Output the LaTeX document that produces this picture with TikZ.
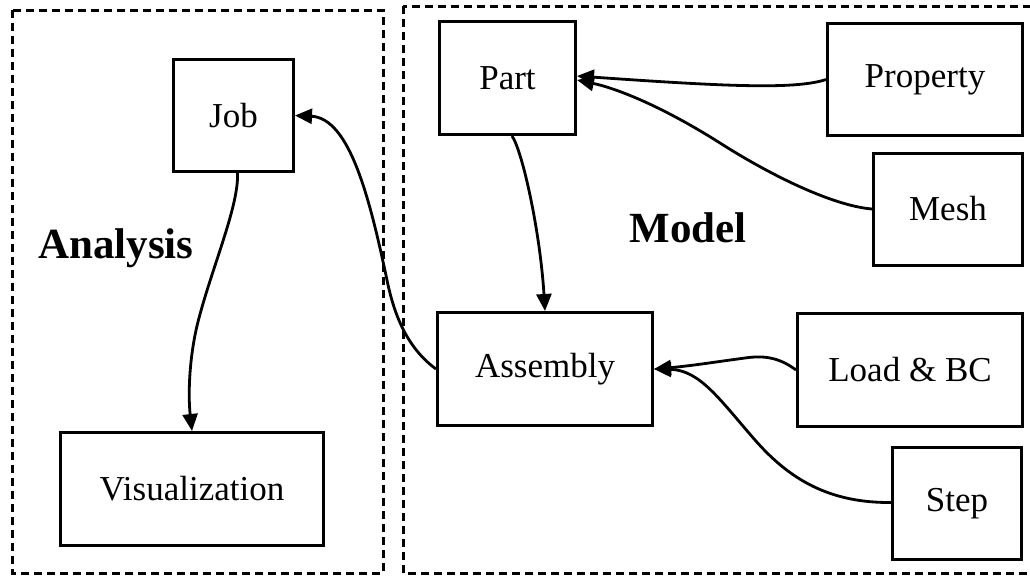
\documentclass[tikz,border=0pt]{standalone}
\usepackage{fontspec}
\setmainfont{Liberation Serif}
\usetikzlibrary{arrows.meta}
\begin{document}
\begin{tikzpicture}[x=1pt,y=-1pt,
  frame/.style={draw, line width=3pt, dash pattern=on 8pt off 5pt},
  box/.style={draw, line width=3pt, inner sep=0pt, font=\fontsize{35}{40}\selectfont},
  grp/.style={font=\fontsize{43}{50}\selectfont\bfseries},
  link/.style={line width=2.8pt, -{Triangle[length=17pt,width=15pt]}}]
\useasboundingbox (0,0) rectangle (1030,576);
\fill[white] (0,0) rectangle (1030,576);
\draw[frame] (12,10) rectangle (383,573);
\draw[frame] (403,6) rectangle (1060,573);
% nodes
\node[box, minimum width=120pt, minimum height=112pt] (job) at (233.5,115.5) {Job};
\node[box, minimum width=263pt, minimum height=113pt] (vis) at (192,489) {Visualization};
\node[box, minimum width=136pt, minimum height=113pt] (part) at (507.5,78) {Part};
\node[box, minimum width=195pt, minimum height=112pt] (prop) at (925,79.5) {Property};
\node[box, minimum width=149pt, minimum height=112pt] (mesh) at (948,209) {Mesh};
\node[box, minimum width=215pt, minimum height=113pt] (asm) at (545,369) {Assembly};
\node[box, minimum width=225pt, minimum height=113pt] (load) at (910,370) {Load \& BC};
\node[box, minimum width=129pt, minimum height=112pt] (step) at (957,503.5) {Step};
\node[grp] (analysis) at (116,248) {Analysis};
\node[grp] (model) at (688,228) {Model};
% connectors
\draw[link] (prop.west) .. controls (795,90) and (720,86) .. ([yshift=2pt]part.east);
\draw[link] (mesh.west) .. controls (835,206) and (775,178) .. (720,143) .. controls (660,105) and (615,88) .. ([yshift=-2pt]part.east);
\draw[link] ([xshift=4.5pt]part.south) .. controls (522,150) and (540,230) .. (asm.north);
\draw[link] (load.west) .. controls (780,358) and (765,355) .. (745,358) .. controls (715,362) and (690,366) .. (asm.east);
\draw[link] ([yshift=1pt]step.west) .. controls (830,503) and (790,480) .. (755,440) .. controls (720,400) and (700,370) .. (asm.east);
\draw[link] ([xshift=4pt]job.south) .. controls (239,205) and (213,265) .. (199,318) .. controls (189,355) and (188,395) .. (vis.north);
\draw[link] (asm.west) .. controls (410,350) and (395,320) .. (387,280) .. controls (370,200) and (350,118) .. (job.east);
\end{tikzpicture}
\end{document}
